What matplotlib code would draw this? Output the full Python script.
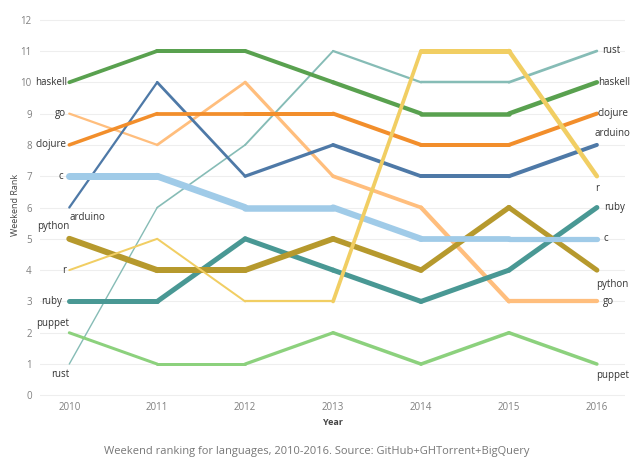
import numpy as np
import matplotlib.pyplot as plt

years = [2010, 2011, 2012, 2013, 2014, 2015, 2016]

haskell = [10, 11, 11, 10, 9, 9, 10]
rust = [1, 6, 8, 11, 10, 10, 11]
go = [9, 8, 10, 7, 6, 3, 3]
clojure = [8, 9, 9, 9, 8, 8, 9]
arduino = [6, 10, 7, 8, 7, 7, 8]
c = [7, 7, 6, 6, 5, 5, 5]
python = [5, 4, 4, 5, 4, 6, 4]
r = [4, 5, 3, 3, 11, 11, 7]
ruby = [3, 3, 5, 4, 3, 4, 6]
puppet = [2, 1, 1, 2, 1, 2, 1]

series = {
    'rust': rust, 'go': go, 'arduino': arduino, 'puppet': puppet,
    'clojure': clojure, 'haskell': haskell, 'ruby': ruby,
    'python': python, 'c': c, 'r': r,
}

# style: colour and line width (px) at each year
colors = {
    'haskell': '#59a14f', 'rust': '#86bcb6', 'go': '#ffbe7d',
    'clojure': '#f28e2b', 'arduino': '#4e79a7', 'c': '#a0cbe8',
    'python': '#b6992d', 'r': '#f1ce63', 'ruby': '#499894',
    'puppet': '#8cd17d',
}
widths = {
    'haskell': [3.5, 4, 4, 4, 4.5, 4.5, 4.5],
    'rust': [1.3, 1.5, 1.8, 2, 2.5, 2.5, 3],
    'go': [2, 2.5, 3, 3.5, 4, 4.5, 4],
    'clojure': [3.5, 3.5, 4, 4, 4, 4, 4],
    'arduino': [2, 2.5, 3, 3.5, 4, 4, 4],
    'c': [7, 7, 6.5, 6.5, 6, 5.5, 5],
    'python': [6, 6, 6, 5.5, 5.5, 5, 5],
    'r': [2, 2, 2, 2.5, 5, 5, 4],
    'ruby': [5, 5, 5, 5, 5, 5, 5],
    'puppet': [3, 3, 3, 3.5, 3.5, 3.5, 3.5],
}

# label placement: (dx px, dy px, ha) at first and last year
left_lab = {
    'haskell': (-2, 0, 'right'), 'go': (-3, 0, 'right'),
    'clojure': (-3, 0, 'right'), 'c': (-6, 0, 'right'),
    'arduino': (0, -10, 'left'), 'python': (0, 12, 'right'),
    'r': (-3, 0, 'right'), 'ruby': (-7, 0, 'right'),
    'puppet': (0, 9, 'right'), 'rust': (0, -10, 'right'),
}
right_lab = {
    'rust': (5, 0, 'left'), 'haskell': (1, 0, 'left'),
    'clojure': (1, 0, 'left'), 'arduino': (-2, 11, 'left'),
    'r': (0, -12, 'center'), 'ruby': (7, 0, 'left'),
    'c': (7, 0, 'left'), 'python': (-1, -14, 'left'),
    'go': (6, 0, 'left'), 'puppet': (-1, -11, 'left'),
}

plt.rcParams['font.family'] = ['Open Sans', 'DejaVu Sans']
px = 0.72

fig = plt.figure(figsize=(6.4, 4.74), dpi=100)
ax = fig.add_axes([0.0625, 0.1527, 0.9141, 0.8223])

for name, vals in series.items():
    w = widths[name]
    for i in range(len(years) - 1):
        ax.plot(years[i:i + 2], vals[i:i + 2], color=colors[name],
                lw=(w[i] + w[i + 1]) / 2 * px, solid_capstyle='round',
                solid_joinstyle='round')
    dx, dy, ha = left_lab[name]
    ax.annotate(name, (years[0], vals[0]), xytext=(dx, dy),
                textcoords='offset pixels', ha=ha, va='center',
                fontsize=7, color='#333333', annotation_clip=False)
    dx, dy, ha = right_lab[name]
    ax.annotate(name, (years[-1], vals[-1]), xytext=(dx, dy),
                textcoords='offset pixels', ha=ha, va='center',
                fontsize=7, color='#333333', annotation_clip=False)

ax.set_xlim(2009.667, 2016.32)
ax.set_ylim(-0.2, 12.25)
ax.set_xticks(years)
ax.set_yticks(range(0, 13))
ax.grid(axis='y', color='#eeeeee', lw=0.8)
ax.set_axisbelow(True)
for s in ax.spines.values():
    s.set_visible(False)
ax.tick_params(length=0, labelsize=7, labelcolor='#808080')
ax.tick_params(axis='y', pad=6)
ax.tick_params(axis='x', pad=0)

fig.text(0.5195, 1 - 422.5 / 474, 'Year', ha='center', va='center',
         fontsize=6.5, fontweight='bold', color='#444444')
fig.text(15 / 640, 1 - 205 / 474, 'Weekend Rank', rotation=90, ha='center',
         va='center', fontsize=6.5, color='#444444')

fig.text(316.5 / 640, 1 - 451.5 / 474,
         'Weekend ranking for languages, 2010-2016. Source: GitHub+GHTorrent+BigQuery',
         ha='center', va='center', fontsize=8, color='#777777')

fig.savefig('out.png', dpi=100)
